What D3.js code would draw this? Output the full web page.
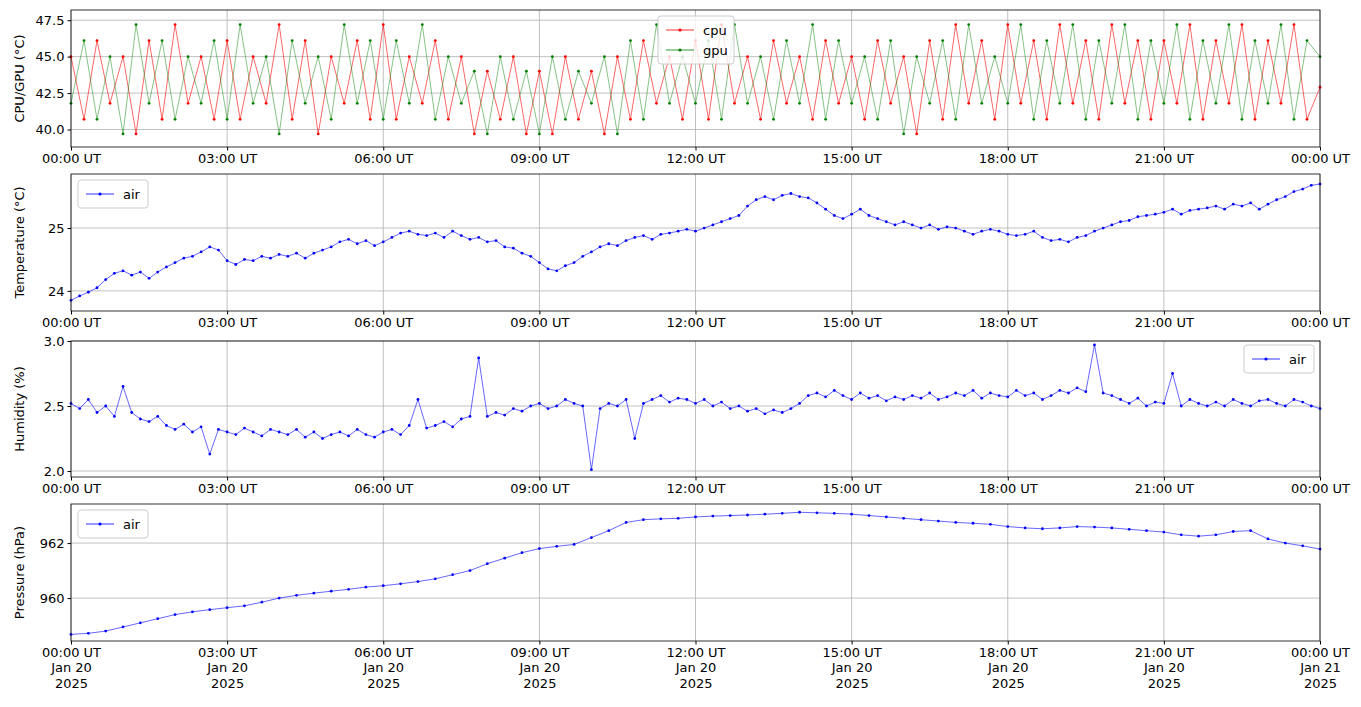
<!DOCTYPE html><html><head><meta charset="utf-8">
<script src="https://cdn.jsdelivr.net/npm/d3@7"></script>
<style>body{margin:0;background:#fff}text{font-family:"DejaVu Sans",sans-serif}</style></head><body>
<svg id="c" width="1361" height="707"></svg>
<script>
const xTickHours=[0,3,6,9,12,15,18,21,24];
const cpu=[45.0,40.7,46.1,41.8,45.0,39.7,46.1,40.7,47.2,41.8,45.0,40.7,
46.1,40.7,45.0,41.8,47.2,40.7,46.1,39.7,45.0,41.8,46.1,40.7,
47.2,40.7,45.0,41.8,46.1,40.7,45.0,39.7,44.0,40.7,45.0,39.7,
44.0,39.7,45.0,40.7,44.0,39.7,45.0,40.7,46.1,41.8,45.0,40.7,
46.1,40.7,47.2,41.8,45.0,40.7,46.1,41.8,45.0,40.7,46.1,41.8,
45.0,40.7,46.1,41.8,45.0,39.7,46.1,40.7,47.2,41.8,46.1,40.7,
47.2,41.8,46.1,40.7,47.2,41.8,46.1,40.7,47.2,41.8,46.1,40.7,
46.1,41.8,47.2,40.7,46.1,41.8,47.2,40.7,46.1,41.8,47.2,40.7,42.9];
const gpu=[41.8,46.1,40.7,45.0,39.7,47.2,41.8,46.1,40.7,45.0,41.8,46.1,
40.7,47.2,41.8,45.0,39.7,46.1,41.8,45.0,40.7,47.2,41.8,46.1,
40.7,46.1,41.8,47.2,40.7,45.0,41.8,44.0,39.7,45.0,40.7,44.0,
39.7,45.0,40.7,44.0,41.8,45.0,39.7,46.1,40.7,47.2,41.8,45.0,
41.8,46.1,40.7,47.2,41.8,45.0,40.7,46.1,41.8,47.2,40.7,46.1,
41.8,45.0,40.7,46.1,39.7,45.0,41.8,46.1,40.7,47.2,41.8,45.0,
41.8,47.2,40.7,46.1,41.8,47.2,40.7,46.1,41.8,47.2,40.7,46.1,
41.8,47.2,40.7,46.1,41.8,47.2,40.7,46.1,41.8,47.2,40.7,46.1,45.0];
const temp=[23.85,23.92,23.98,24.05,24.18,24.28,24.32,24.25,24.3,24.2,24.3,24.38,
24.45,24.52,24.55,24.62,24.7,24.65,24.48,24.42,24.5,24.48,24.55,24.52,
24.58,24.55,24.6,24.52,24.6,24.65,24.7,24.78,24.82,24.75,24.8,24.72,
24.78,24.85,24.92,24.95,24.9,24.88,24.92,24.85,24.95,24.88,24.82,24.85,
24.78,24.8,24.7,24.68,24.6,24.55,24.45,24.35,24.32,24.4,24.45,24.55,
24.62,24.7,24.75,24.72,24.8,24.85,24.88,24.82,24.9,24.92,24.95,24.98,
24.95,25.0,25.05,25.1,25.15,25.2,25.35,25.45,25.5,25.45,25.52,25.55,
25.5,25.48,25.4,25.3,25.2,25.15,25.22,25.3,25.2,25.15,25.1,25.05,
25.1,25.05,25.0,25.05,24.98,25.02,25.0,24.95,24.9,24.95,24.98,24.95,
24.9,24.88,24.9,24.95,24.85,24.8,24.82,24.78,24.85,24.88,24.95,25.0,
25.05,25.1,25.12,25.18,25.2,25.22,25.25,25.3,25.22,25.28,25.3,25.32,
25.35,25.3,25.38,25.35,25.4,25.3,25.38,25.45,25.5,25.58,25.62,25.68,25.7];
const hum=[2.52,2.48,2.55,2.45,2.5,2.42,2.65,2.45,2.4,2.38,2.42,2.35,
2.32,2.36,2.3,2.34,2.13,2.32,2.3,2.28,2.33,2.3,2.27,2.32,
2.3,2.28,2.32,2.26,2.3,2.25,2.28,2.3,2.27,2.32,2.28,2.26,
2.3,2.32,2.28,2.35,2.55,2.33,2.35,2.38,2.34,2.4,2.42,2.87,
2.42,2.45,2.43,2.48,2.46,2.5,2.52,2.48,2.5,2.55,2.52,2.5,
2.01,2.48,2.52,2.5,2.55,2.25,2.52,2.55,2.58,2.53,2.56,2.55,
2.52,2.55,2.5,2.53,2.48,2.5,2.46,2.48,2.44,2.47,2.45,2.48,
2.52,2.58,2.6,2.57,2.62,2.58,2.55,2.6,2.56,2.58,2.54,2.57,
2.55,2.58,2.56,2.6,2.55,2.57,2.6,2.58,2.62,2.56,2.6,2.58,
2.57,2.62,2.58,2.6,2.55,2.58,2.62,2.6,2.64,2.61,2.97,2.6,
2.58,2.55,2.52,2.56,2.5,2.53,2.52,2.75,2.5,2.55,2.52,2.5,
2.53,2.5,2.55,2.52,2.5,2.54,2.55,2.52,2.5,2.55,2.53,2.5,2.48];
const pres=[958.68,958.72,958.8,958.95,959.1,959.25,959.4,959.5,959.58,959.65,959.72,959.85,
960.0,960.1,960.18,960.25,960.32,960.4,960.45,960.52,960.6,960.7,960.85,961.0,
961.25,961.45,961.65,961.8,961.88,961.95,962.2,962.45,962.75,962.85,962.88,962.9,
962.95,962.98,963.0,963.02,963.05,963.08,963.12,963.1,963.08,963.05,963.0,962.95,
962.9,962.85,962.8,962.75,962.72,962.68,962.6,962.55,962.52,962.55,962.6,962.58,
962.55,962.5,962.45,962.4,962.3,962.25,962.3,962.42,962.45,962.15,962.0,961.9,961.78];

const svg=d3.select("#c");
const L=71,R=1320;
const t0=Date.UTC(2025,0,20);
const x=d3.scaleUtc().domain([new Date(t0),new Date(t0+864e5)]).range([L,R]);
const ticks=xTickHours.map(h=>new Date(t0+h*36e5));
const fmt=d3.utcFormat("%H:%M UT");
function panel(top,bot,dom,yt,yfmt,label,series,legend,last){
  const y=d3.scaleLinear().domain(dom).range([bot,top]);
  const g=svg.append("g");
  g.selectAll(".gx").data(ticks).join("line").attr("x1",d=>x(d)).attr("x2",d=>x(d)).attr("y1",top).attr("y2",bot).attr("stroke","#b0b0b0").attr("stroke-width",0.8);
  g.selectAll(".gy").data(yt).join("line").attr("x1",L).attr("x2",R).attr("y1",d=>y(d)).attr("y2",d=>y(d)).attr("stroke","#b0b0b0").attr("stroke-width",0.8);
  series.forEach(s=>{
    const n=s.v.length,step=864e5/(n-1);
    const pts=s.v.map((v,i)=>[x(new Date(t0+i*step)),y(v)]);
    g.append("path").attr("d",d3.line()(pts)).attr("fill","none").attr("stroke",s.c).attr("stroke-width",0.6).attr("opacity",s.op||1);
    g.selectAll(null).data(pts).join("circle").attr("cx",d=>d[0]).attr("cy",d=>d[1]).attr("r",1.4).attr("fill",s.c);
  });
  const ax=g.append("g").attr("transform",`translate(0,${bot})`).call(d3.axisBottom(x).tickValues(ticks).tickFormat(fmt).tickSizeOuter(0).tickSize(3.5));
  const ay=g.append("g").attr("transform",`translate(${L},0)`).call(d3.axisLeft(y).tickValues(yt).tickFormat(yfmt).tickSizeOuter(0).tickSize(3.5));
  [ax,ay].forEach(a=>{a.select(".domain").remove();a.selectAll("text").attr("font-size",13).attr("fill","#000").attr("font-family","DejaVu Sans");a.selectAll("line").attr("stroke","#000");});
  if(last){ax.selectAll(".tick").each(function(d,i){const t=d3.select(this).select("text");
    t.append("tspan").attr("x",0).attr("dy","1.2em").text(i==8?"Jan 21":"Jan 20");
    t.append("tspan").attr("x",0).attr("dy","1.2em").text("2025");});}
  g.append("rect").attr("x",L).attr("y",top).attr("width",R-L).attr("height",bot-top).attr("fill","none").attr("stroke","#000").attr("stroke-width",0.8);
  g.append("text").attr("transform",`translate(${L-47},${(top+bot)/2}) rotate(-90)`).attr("text-anchor","middle").attr("font-size",13).text(label);
  const lw=legend.w,lh=series.length*20+8,lx=legend.x,ly=legend.y;
  g.append("rect").attr("x",lx).attr("y",ly).attr("width",lw).attr("height",lh).attr("rx",3).attr("fill","#fff").attr("fill-opacity",0.8).attr("stroke","#ccc");
  series.forEach((s,i)=>{const yy=ly+14+i*20;
    g.append("line").attr("x1",lx+8).attr("x2",lx+36).attr("y1",yy).attr("y2",yy).attr("stroke",s.c).attr("stroke-width",0.8);
    g.append("circle").attr("cx",lx+22).attr("cy",yy).attr("r",1.6).attr("fill",s.c);
    g.append("text").attr("x",lx+45).attr("y",yy+4.5).attr("font-size",13).text(s.n);});
}
panel(10,147,[38.8,48.2],[40,42.5,45,47.5],d3.format(".1f"),"CPU/GPU (°C)",
  [{v:cpu,c:"red",n:"cpu"},{v:gpu,c:"green",n:"gpu",op:0.8}],{x:658,y:16,w:76});
panel(174,311,[23.68,25.86],[24,25],d3.format("d"),"Temperature (°C)",[{v:temp,c:"blue",n:"air"}],{x:78,y:180,w:70});
panel(341,477,[1.954,3.0],[2.0,2.5,3.0],d3.format(".1f"),"Humidity (%)",[{v:hum,c:"blue",n:"air"}],{x:1244,y:345,w:70});
panel(504,641,[958.44,963.42],[960,962],d3.format("d"),"Pressure (hPa)",[{v:pres,c:"blue",n:"air"}],{x:78,y:510,w:70},true);
</script></body></html>
